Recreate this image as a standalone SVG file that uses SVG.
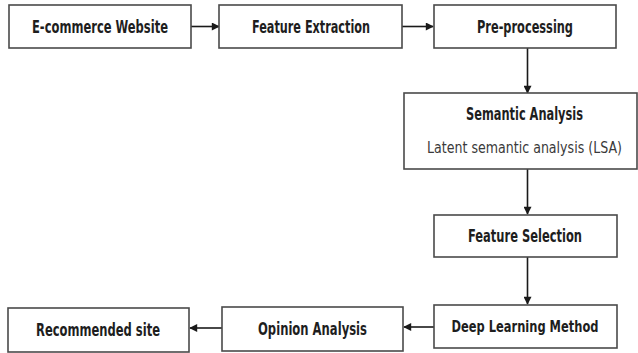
<svg xmlns="http://www.w3.org/2000/svg" width="638" height="353" viewBox="0 0 638 353">
  <style>
    .box { fill: #ffffff; stroke: #4a4a4a; stroke-width: 1.6; }
    .lbl { font-family: "Liberation Sans Narrow", "DejaVu Sans Condensed", "Liberation Sans", sans-serif; font-weight: bold; font-size: 17px; fill: #1e1e1e; text-anchor: middle; dominant-baseline: central; }
    .lbl.long { font-size: 15px; }
    .sub { font-family: "Liberation Sans Narrow", "DejaVu Sans Condensed", "Liberation Sans", sans-serif; font-size: 15px; fill: #3a3a3a; text-anchor: middle; dominant-baseline: central; }
    .edge { stroke: #1a1a1a; stroke-width: 1.6; fill: none; marker-end: url(#head); }
  </style>
  <defs>
    <marker id="head" viewBox="0 0 10 10" refX="9" refY="5" markerWidth="9" markerHeight="8" markerUnits="userSpaceOnUse" orient="auto">
      <path d="M0,0 L10,5 L0,10 z" fill="#1a1a1a"/>
    </marker>
  </defs>
  <rect width="638" height="353" fill="#ffffff"/>

  <g id="connectors">
    <line class="edge" x1="191" y1="26.5" x2="219" y2="26.5"/>
    <line class="edge" x1="402" y1="26.5" x2="433" y2="26.5"/>
    <line class="edge" x1="527.5" y1="48" x2="527.5" y2="93"/>
    <line class="edge" x1="527.5" y1="169" x2="527.5" y2="214"/>
    <line class="edge" x1="527.5" y1="257" x2="527.5" y2="304"/>
    <line class="edge" x1="434" y1="327" x2="404" y2="327"/>
    <line class="edge" x1="222" y1="328" x2="190" y2="328"/>
  </g>

  <g id="ecommerce">
    <rect class="box" x="9" y="5" width="182" height="43"/>
    <text class="lbl" x="100" y="26.5" textLength="136" lengthAdjust="spacingAndGlyphs">E-commerce Website</text>
  </g>
  <g id="feature-extraction">
    <rect class="box" x="219" y="5" width="183" height="43"/>
    <text class="lbl" x="311" y="26.5" textLength="118" lengthAdjust="spacingAndGlyphs">Feature Extraction</text>
  </g>
  <g id="preprocessing">
    <rect class="box" x="434" y="5" width="182" height="43"/>
    <text class="lbl" x="525" y="26.5" textLength="96" lengthAdjust="spacingAndGlyphs">Pre-processing</text>
  </g>
  <g id="semantic-analysis">
    <rect class="box" x="404" y="93" width="233" height="76"/>
    <text class="lbl" x="524.5" y="114" textLength="117" lengthAdjust="spacingAndGlyphs">Semantic Analysis</text>
    <text class="sub" x="524.5" y="148" textLength="195" lengthAdjust="spacingAndGlyphs">Latent semantic analysis (LSA)</text>
  </g>
  <g id="feature-selection">
    <rect class="box" x="434" y="215" width="183" height="42"/>
    <text class="lbl" x="525" y="236" textLength="114" lengthAdjust="spacingAndGlyphs">Feature Selection</text>
  </g>
  <g id="deep-learning">
    <rect class="box" x="434" y="305" width="183" height="43"/>
    <text class="lbl long" x="525" y="326.5" textLength="147" lengthAdjust="spacingAndGlyphs">Deep Learning Method</text>
  </g>
  <g id="opinion-analysis">
    <rect class="box" x="222" y="307" width="181" height="44"/>
    <text class="lbl" x="312.5" y="329" textLength="109" lengthAdjust="spacingAndGlyphs">Opinion Analysis</text>
  </g>
  <g id="recommended-site">
    <rect class="box" x="8" y="308" width="181" height="44"/>
    <text class="lbl" x="98" y="330" textLength="124" lengthAdjust="spacingAndGlyphs">Recommended site</text>
  </g>
</svg>
